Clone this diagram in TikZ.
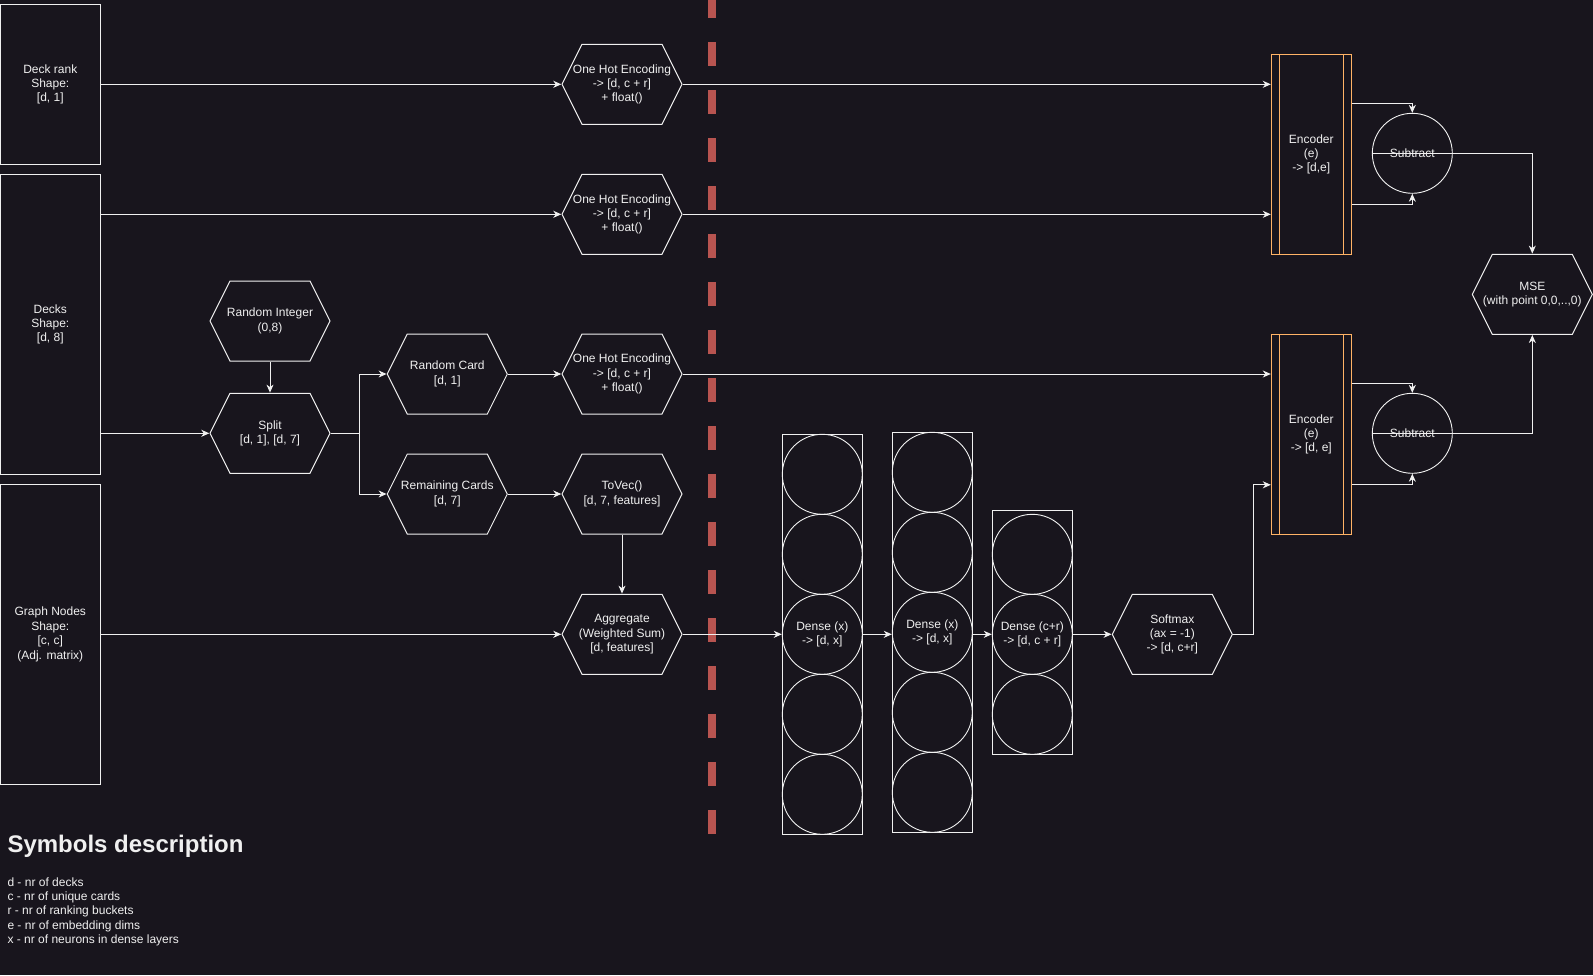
\documentclass[tikz,border=0pt]{standalone}
\usepackage{fontspec}
\setmainfont{Liberation Sans}
\usetikzlibrary{arrows.meta}

\definecolor{canvas}{RGB}{24,21,29}
\definecolor{ink}{RGB}{240,240,240}
\definecolor{encoderline}{RGB}{255,179,102}
\definecolor{splitline}{RGB}{184,84,80}

\begin{document}
\begin{tikzpicture}[x=1pt, y=-1pt,
  every node/.style={text=ink, font=\fontsize{12}{14.4}\selectfont, align=center, inner sep=0},
  inbox/.style={draw=ink, line width=1, minimum width=100, minimum height=#1},
  hexbox/.style={minimum width=121, minimum height=81,
    path picture={\draw[ink, line width=1]
      ([xshift=0.5]path picture bounding box.west)
      -- ([xshift=20.5, yshift=-0.5]path picture bounding box.north west)
      -- ([xshift=-20.5, yshift=-0.5]path picture bounding box.north east)
      -- ([xshift=-0.5]path picture bounding box.east)
      -- ([xshift=-20.5, yshift=0.5]path picture bounding box.south east)
      -- ([xshift=20.5, yshift=0.5]path picture bounding box.south west)
      -- cycle;}},
  layerbox/.style={draw=ink, line width=1, minimum width=80, minimum height=#1},
  neuron/.style={circle, draw=ink!85, line width=0.9, minimum size=80},
  encoder/.style={draw=encoderline, line width=1, minimum width=80, minimum height=200,
    path picture={\draw[encoderline, line width=1]
      ([xshift=8]path picture bounding box.north west) -- ([xshift=8]path picture bounding box.south west)
      ([xshift=-8]path picture bounding box.north east) -- ([xshift=-8]path picture bounding box.south east);}},
  diffnode/.style={circle, draw=ink!85, line width=0.9, minimum size=80},
  arr/.style={draw=ink, line width=1, -{Stealth[length=8, width=7, inset=2.5]}},
  link/.style={draw=ink, line width=1},
  divider/.style={draw=splitline, line width=8, dash pattern=on 24 off 24}
]
% canvas
\fill[canvas] (0,0) rectangle (1593,975);
\useasboundingbox (0,0) rectangle (1593,975);

% dashed divider
\draw[divider] (711.5,-5.7) -- (711.5,834.3);

% inputs
\node[inbox=160] (rank)  at (50.3,84.3)  {Deck rank\\Shape:\\{}[d, 1]};
\node[inbox=300] (decks) at (50.3,324.3) {Decks\\Shape:\\{}[d, 8]};
\node[inbox=300] (graph) at (50.3,634.3) {Graph Nodes\\Shape:\\{}[c, c]\\(Adj. matrix)};

% preprocessing
\node[hexbox] (rint)  at (270,321)    {Random Integer\\(0,8)};
\node[hexbox] (split) at (270,433.3)  {Split\\{}[d, 1], [d, 7]};
\node[hexbox] (rcard) at (447.3,374)  {Random Card\\{}[d, 1]};
\node[hexbox] (rem)   at (447.3,494)  {Remaining Cards\\{}[d, 7]};
\node[hexbox] (oh1)   at (622,84.3)   {One Hot Encoding\\-> [d, c + r]\\+ float()};
\node[hexbox] (oh2)   at (622,214.3)  {One Hot Encoding\\-> [d, c + r]\\+ float()};
\node[hexbox] (oh3)   at (622,374)    {One Hot Encoding\\-> [d, c + r]\\+ float()};
\node[hexbox] (tovec) at (622,494)    {ToVec()\\{}[d, 7, features]};
\node[hexbox] (agg)   at (622,634.3)  {Aggregate\\(Weighted Sum)\\{}[d, features]};

% dense layers
\node[layerbox=400] (dense1) at (822.3,634.3) {};
\node[layerbox=400] (dense2) at (932.3,632.3) {};
\node[layerbox=244] (dense3) at (1032.3,632.3) {};
\foreach \k in {0,1,3,4} {
  \node[neuron] (d1n\k) at (822.3,474.3+80*\k) {};
  \node[neuron] (d2n\k) at (932.3,472.3+80*\k) {};
}
\node[neuron] (d1n2) at (822.3,634.3) {Dense (x)\\-> [d, x]};
\node[neuron] (d2n2) at (932.3,632.3) {Dense (x)\\-> [d, x]};
\node[neuron] (d3n0) at (1032.3,554.3) {};
\node[neuron] (d3n1) at (1032.3,634.3) {Dense (c+r)\\-> [d, c + r]};
\node[neuron] (d3n2) at (1032.3,714.3) {};
\node[hexbox] (soft) at (1172.3,634.3) {Softmax\\(ax = -1)\\-> [d, c+r]};

% encoders, differences, loss
\node[encoder] (enc1) at (1311.3,154.3) {Encoder\\(e)\\-> [d,e]};
\node[encoder] (enc2) at (1311.3,434.3) {Encoder\\(e)\\-> [d, e]};
\node[diffnode] (sub1) at (1412.3,153.3) {Subtract};
\node[diffnode] (sub2) at (1412.3,433.3) {Subtract};
\node[hexbox] (mse) at (1532.3,294.3) {MSE\\(with point 0,0,..,0)};

% connectors
\draw[arr] (rank.east) -- (oh1.west);
\draw[arr] (decks.east |- oh2.west) -- (oh2.west);
\draw[arr] (decks.east |- split.west) -- (split.west);
\draw[arr] (graph.east) -- (agg.west);
\draw[arr] (rint.south) -- (split.north);
\draw[arr] (split.east) -- ++(28.5,0) |- (rcard.west);
\draw[arr] (split.east) -- ++(28.5,0) |- (rem.west);
\draw[arr] (rcard.east) -- (oh3.west);
\draw[arr] (rem.east) -- (tovec.west);
\draw[arr] (tovec.south) -- (agg.north);
\draw[arr] (oh1.east) -- (oh1.east -| enc1.west);
\draw[arr] (oh2.east) -- (oh2.east -| enc1.west);
\draw[arr] (oh3.east) -- (oh3.east -| enc2.west);
\draw[arr] (agg.east) -- (dense1.west);
\draw[arr] (dense1.east) -- (dense1.east -| dense2.west);
\draw[arr] (dense1.east -| dense2.east) -- (dense1.east -| dense3.west);
\draw[arr] (dense3.east |- soft.west) -- (soft.west);
\draw[arr] (soft.east) -- ++(20,0) |- ([yshift=50]enc2.south west);
\draw[arr] ([yshift=-50]enc1.north east) -| (sub1.north);
\draw[arr] ([yshift=50]enc1.south east) -| (sub1.south);
\draw[arr] ([yshift=-50]enc2.north east) -| (sub2.north);
\draw[arr] ([yshift=50]enc2.south east) -| (sub2.south);
\draw[arr] (sub1.west) -| (mse.north);
\draw[arr] (sub2.west) -| (mse.south);

% legend
\node[anchor=base west, font=\bfseries\fontsize{24}{28.8}\selectfont] (legendtitle) at (7.3,852) {Symbols description};
\node[anchor=north west, align=left] (legendlist) at (7.3,877.2)
  {d - nr of decks\\c - nr of unique cards\\r - nr of ranking buckets\\e - nr of embedding dims\\x - nr of neurons in dense layers};
\end{tikzpicture}
\end{document}
